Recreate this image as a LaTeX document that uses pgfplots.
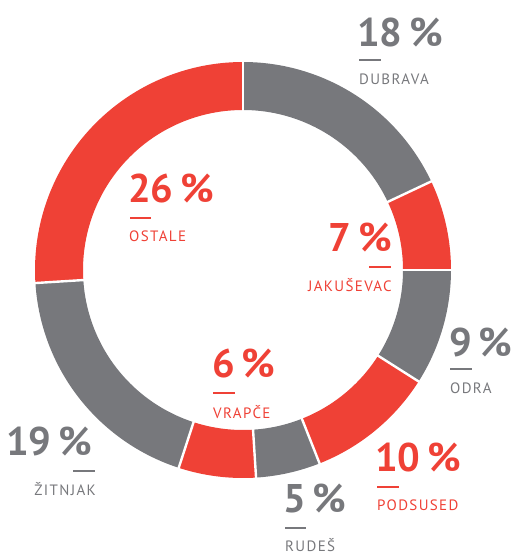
\documentclass[border=0pt]{standalone}
\usepackage{pgfplots}
\pgfplotsset{compat=1.18}
\usepackage{fontspec}
\setmainfont{PT Sans}
\newfontfamily\labfont[LetterSpace=9]{PT Sans}
\definecolor{cred}{RGB}{239,65,54}
\definecolor{cgray}{RGB}{119,120,124}
\newcommand{\pct}[1]{\fontsize{40}{40}\selectfont\bfseries #1\hspace{0.17em}\%}
\newcommand{\lab}[1]{\fontsize{15}{15}\labfont #1}
\begin{document}
\begin{tikzpicture}
\begin{axis}[x=1pt,y=1pt,xmin=0,xmax=519,ymin=0,ymax=555,hide axis,clip=false,
  seg/.style={line width=48pt,samples=80,line join=round,line cap=butt},
  sep/.style={white,line width=2.4pt,samples=2,domain=154:214}]
\path (rel axis cs:0,0) rectangle (rel axis cs:1,1);
% segments (percent, clockwise from top), centre (243,285), mid radius 184
\addplot[seg,cgray,domain=0:18]  ({243+184*sin(3.6*x)},{285+184*cos(3.6*x)}); % Dubrava 18
\addplot[seg,cred,domain=18:25]  ({243+184*sin(3.6*x)},{285+184*cos(3.6*x)}); % Jakusevac 7
\addplot[seg,cgray,domain=25:34] ({243+184*sin(3.6*x)},{285+184*cos(3.6*x)}); % Odra 9
\addplot[seg,cred,domain=34:44]  ({243+184*sin(3.6*x)},{285+184*cos(3.6*x)}); % Podsused 10
\addplot[seg,cgray,domain=44:49] ({243+184*sin(3.6*x)},{285+184*cos(3.6*x)}); % Rudes 5
\addplot[seg,cred,domain=49:55]  ({243+184*sin(3.6*x)},{285+184*cos(3.6*x)}); % Vrapce 6
\addplot[seg,cgray,domain=55:74] ({243+184*sin(3.6*x)},{285+184*cos(3.6*x)}); % Zitnjak 19
\addplot[seg,cred,domain=74:100] ({243+184*sin(3.6*x)},{285+184*cos(3.6*x)}); % Ostale 26
% separators
\addplot[sep] ({243+x*sin(3.6*0)},{285+x*cos(3.6*0)});
\addplot[sep] ({243+x*sin(3.6*18)},{285+x*cos(3.6*18)});
\addplot[sep] ({243+x*sin(3.6*25)},{285+x*cos(3.6*25)});
\addplot[sep] ({243+x*sin(3.6*34)},{285+x*cos(3.6*34)});
\addplot[sep] ({243+x*sin(3.6*44)},{285+x*cos(3.6*44)});
\addplot[sep] ({243+x*sin(3.6*49)},{285+x*cos(3.6*49)});
\addplot[sep] ({243+x*sin(3.6*55)},{285+x*cos(3.6*55)});
\addplot[sep] ({243+x*sin(3.6*74)},{285+x*cos(3.6*74)});
% labels (y measured from top: 555 - y)
% DUBRAVA
\node[cgray,anchor=base west,inner sep=0] at (axis cs:357,508) {\pct{18}};
\draw[cgray,line width=2pt] (axis cs:359,495) -- (axis cs:381,495);
\node[cgray,anchor=base west,inner sep=0] at (axis cs:359,470) {\lab{DUBRAVA}};
% OSTALE
\node[cred,anchor=base west,inner sep=0] at (axis cs:128,352) {\pct{26}};
\draw[cred,line width=2pt] (axis cs:130,337) -- (axis cs:151,337);
\node[cred,anchor=base west,inner sep=0] at (axis cs:129,313) {\lab{OSTALE}};
% JAKUSEVAC
\node[cred,anchor=base east,inner sep=0] at (axis cs:392,303) {\pct{7}};
\draw[cred,line width=2pt] (axis cs:369,288) -- (axis cs:391,288);
\node[cred,anchor=base east,inner sep=0] at (axis cs:392,263) {\lab{JAKUŠEVAC}};
% ODRA
\node[cgray,anchor=base west,inner sep=0] at (axis cs:449,198) {\pct{9}};
\draw[cgray,line width=2pt] (axis cs:450,186) -- (axis cs:472,186);
\node[cgray,anchor=base west,inner sep=0] at (axis cs:450,161) {\lab{ODRA}};
% ZITNJAK
\node[cgray,anchor=base east,inner sep=0] at (axis cs:92,99) {\pct{19}};
\draw[cgray,line width=2pt] (axis cs:73,84) -- (axis cs:95,84);
\node[cgray,anchor=base east,inner sep=0] at (axis cs:96,59) {\lab{ŽITNJAK}};
% VRAPCE
\node[cred,anchor=base west,inner sep=0] at (axis cs:212,177) {\pct{6}};
\draw[cred,line width=2pt] (axis cs:213,162) -- (axis cs:235,162);
\node[cred,anchor=base west,inner sep=0] at (axis cs:213,136) {\lab{VRAPČE}};
% PODSUSED
\node[cred,anchor=base west,inner sep=0] at (axis cs:375,83) {\pct{10}};
\draw[cred,line width=2pt] (axis cs:377,68) -- (axis cs:399,68);
\node[cred,anchor=base west,inner sep=0] at (axis cs:377,45) {\lab{PODSUSED}};
% RUDES
\node[cgray,anchor=base west,inner sep=0] at (axis cs:283,42) {\pct{5}};
\draw[cgray,line width=2pt] (axis cs:285,27) -- (axis cs:306,27);
\node[cgray,anchor=base west,inner sep=0] at (axis cs:285,3) {\lab{RUDEŠ}};
\end{axis}
\end{tikzpicture}
\end{document}
